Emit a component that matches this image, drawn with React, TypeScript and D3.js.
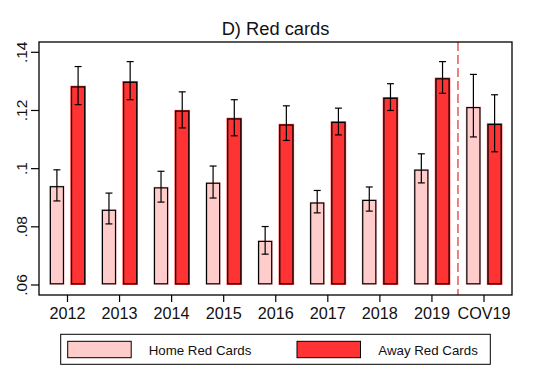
import React from "react";
import * as d3 from "d3";

const categories = ["2012", "2013", "2014", "2015", "2016", "2017", "2018", "2019", "COV19"];
const homeValues = [0.0942, 0.0861, 0.0938, 0.0954, 0.0754, 0.0886, 0.0895, 0.0999, 0.1214];
const homeLow = [0.0889, 0.081, 0.0885, 0.0899, 0.0706, 0.0848, 0.0854, 0.0951, 0.1109];
const homeHigh = [0.0996, 0.0916, 0.0991, 0.1009, 0.0801, 0.0925, 0.0937, 0.1051, 0.1324];
const awayValues = [0.1285, 0.1301, 0.1202, 0.1175, 0.1154, 0.1163, 0.1246, 0.1313, 0.1156];
const awayLow = [0.122, 0.1237, 0.114, 0.1113, 0.1097, 0.1116, 0.12, 0.1259, 0.1058];
const awayHigh = [0.1351, 0.1368, 0.1264, 0.1237, 0.1216, 0.1208, 0.1292, 0.1368, 0.1254];
const yTicks = [0.06, 0.08, 0.1, 0.12, 0.14];
const yTickLabels = [".06", ".08", ".1", ".12", ".14"];
const seriesNames = ["Home Red Cards", "Away Red Cards"];
const colors = ["#FFCCCC", "#FF3333"];

const FONT = "Liberation Sans, Arial, sans-serif";

export default function App() {
  const W = 533, H = 378;
  const left = 39, right = 512, top = 42, bottom = 295;
  const x = d3.scaleLinear().domain([0, 8]).range([67.5, 484]);
  const y = d3.scaleLinear().domain([0.06, 0.14]).range([285, 52.3]);
  const barW = 15.5;
  const off = 10.6;
  const cap = 3.5;

  const series = [
    { vals: homeValues, lo: homeLow, hi: homeHigh, dx: -off, color: colors[0] },
    { vals: awayValues, lo: awayLow, hi: awayHigh, dx: off, color: colors[1] },
  ];

  const divider = (x(7) + x(8)) / 2;

  return (
    <svg width={W} height={H} style={{ position: "absolute", left: 0, top: 0 }}>
      <rect x={0} y={0} width={W} height={H} fill="#fff" />
      <text x={(left + right) / 2} y={35} textAnchor="middle" fontFamily={FONT} fontSize={18.3} fill="#111">
        D) Red cards
      </text>
      {series.map((s, si) =>
        categories.map((c, i) => {
          const cx = x(i) + s.dx;
          const y0 = y(0.06);
          const y1 = y(s.vals[i]);
          return (
            <g key={`${si}-${i}`}>
              <rect x={cx - barW / 2} y={y1} width={barW} height={y0 - y1} fill={s.color} />
              <rect
                x={cx - barW / 2 + 1.2}
                y={y1 + 1.2}
                width={barW - 2.4}
                height={y0 - y1 - 2.4}
                fill={s.color}
                stroke="#000"
                strokeWidth={1.2}
              />
            </g>
          );
        })
      )}
      {series.map((s, si) =>
        categories.map((c, i) => {
          const cx = x(i) + s.dx;
          return (
            <g key={`e${si}-${i}`} stroke="#000" strokeWidth={1.2}>
              <line x1={cx} x2={cx} y1={y(s.lo[i])} y2={y(s.hi[i])} />
              <line x1={cx - cap} x2={cx + cap} y1={y(s.lo[i])} y2={y(s.lo[i])} />
              <line x1={cx - cap} x2={cx + cap} y1={y(s.hi[i])} y2={y(s.hi[i])} />
            </g>
          );
        })
      )}
      <line x1={divider} x2={divider} y1={top} y2={bottom} stroke="#e00000" strokeWidth={1} strokeDasharray="9,4" />
      <rect x={left} y={top} width={right - left} height={bottom - top} fill="none" stroke="#000" strokeWidth={1.3} />
      {yTicks.map((t, i) => (
        <g key={`yt${i}`}>
          <line x1={left - 8} x2={left} y1={y(t)} y2={y(t)} stroke="#000" strokeWidth={1.2} />
          <text
            transform={`translate(27,${y(t)}) rotate(-90)`}
            textAnchor="middle"
            fontFamily={FONT}
            fontSize={15.5}
            fill="#111"
          >
            {yTickLabels[i]}
          </text>
        </g>
      ))}
      {categories.map((c, i) => (
        <g key={`xt${i}`}>
          <line x1={x(i)} x2={x(i)} y1={bottom} y2={bottom + 7} stroke="#000" strokeWidth={1.2} />
          <text x={x(i)} y={319.3} textAnchor="middle" fontFamily={FONT} fontSize={16.2} fill="#111">
            {c}
          </text>
        </g>
      ))}
      <rect x={60.7} y={334.3} width={429.6} height={30} fill="#fff" stroke="#000" strokeWidth={1} />
      {seriesNames.map((n, i) => {
        const sx = i === 0 ? 67.7 : 297;
        const tx = i === 0 ? 148.7 : 378.3;
        return (
          <g key={`lg${i}`}>
            <rect x={sx} y={341.3} width={63.5} height={16.4} fill={colors[i]} stroke="#000" strokeWidth={1} />
            <text x={tx} y={354.5} fontFamily={FONT} fontSize={13.3} fill="#111">
              {n}
            </text>
          </g>
        );
      })}
    </svg>
  );
}
